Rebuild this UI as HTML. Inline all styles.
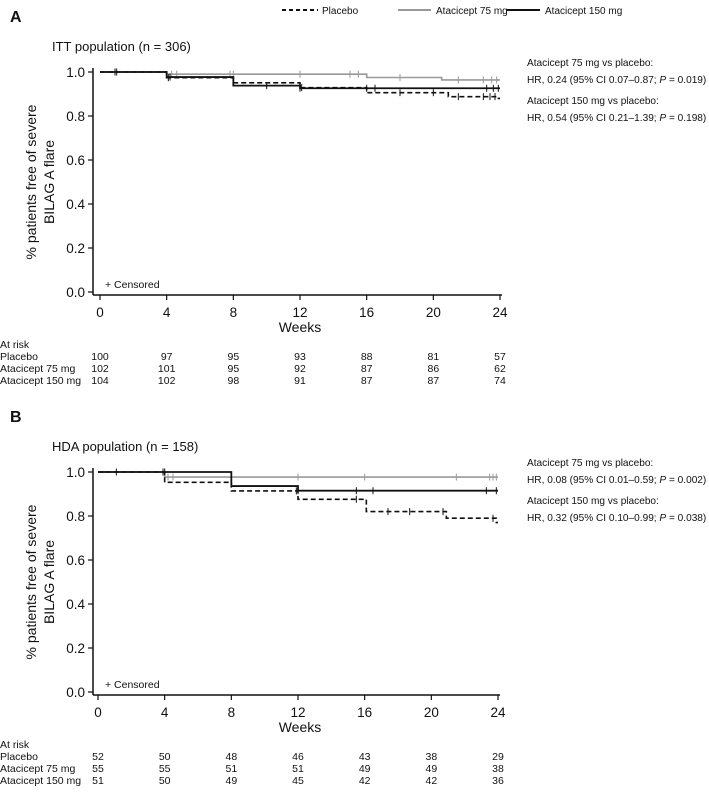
<!DOCTYPE html>
<html><head><meta charset="utf-8"><style>
body{margin:0;background:#fff;font-family:"Liberation Sans",Arial,sans-serif;}
svg text{font-family:"Liberation Sans",Arial,sans-serif;fill:#111;}
</style></head><body>
<svg id="c" width="709" height="792" viewBox="0 0 709 792">
<g>
<line x1="282" y1="10" x2="318" y2="10" stroke="#111" stroke-width="2" stroke-dasharray="4,3"/>
<text x="322" y="14" font-size="10">Placebo</text>
<line x1="398" y1="10" x2="431" y2="10" stroke="#999" stroke-width="2"/>
<text x="436" y="14" font-size="10">Atacicept 75 mg</text>
<line x1="507" y1="10" x2="540" y2="10" stroke="#111" stroke-width="2"/>
<text x="545" y="14" font-size="10">Atacicept 150 mg</text>
</g>
</svg>
<script>
const weeks=[0,4,8,12,16,20,24];
const yTicks=[0,0.2,0.4,0.6,0.8,1.0];
const seriesNames=["Placebo","Atacicept 75 mg","Atacicept 150 mg"];
// Panel A step data: [time, survival]
const aPlacebo=[[0,1],[4,0.974],[8,0.951],[12,0.929],[16,0.906],[20.9,0.888],[23.9,0.88]];
const a75=[[0,1],[4,0.99],[16,0.975],[20.5,0.964]];
const a150=[[0,1],[4,0.977],[8,0.938],[12,0.926]];
const aCensPlacebo=[0.9,4.1,12.1,18,20,21.5,23,23.4,23.7];
const aCens75=[4.3,4.6,7.8,8,12,15,15.5,18,21.5,23,23.5,23.8];
const aCens150=[1,4.2,10,12,16,16.5,23.2,23.6,23.9];
const aRisk=[[100,97,95,93,88,81,57],[102,101,95,92,87,86,62],[104,102,98,91,87,87,74]];
// Panel B
const bPlacebo=[[0,1],[4,0.953],[8,0.914],[12,0.876],[16.1,0.82],[20.9,0.79],[23.9,0.77]];
const b75=[[0,1],[4,0.977]];
const b150=[[0,1],[8,0.936],[12,0.915]];
const bCensPlacebo=[3.9,11.9,15.5,17.4,18.7,20.7,23.7];
const bCens75=[4.2,4.5,12,16,21.5,23.5,23.7,23.9];
const bCens150=[1.1,4,12,15.5,16.5,23.3,23.9];
const bRisk=[[52,50,48,46,43,38,29],[55,55,51,51,49,49,38],[51,50,49,45,42,42,36]];

const svg=document.getElementById('c');
const NS='http://www.w3.org/2000/svg';
function mk(tag,attrs,parent,txt){const e=document.createElementNS(NS,tag);for(const k in attrs)e.setAttribute(k,attrs[k]);if(txt!==undefined)e.textContent=txt;(parent||svg).appendChild(e);return e;}

function panel(o){
  const X=w=>o.x0+w/24*400;
  const Y=v=>o.y0-v*220;
  const top=Y(1);
  const g=mk('g',{});
  
  
  let t=mk('text',{x:10,y:top-50,'font-size':16,'font-weight':'bold'},g,o.letter);
  
  
  t=mk('text',{x:52,y:top-21,'font-size':13},g,o.title);
  
  
  o.notes.forEach((s,i)=>{const a=mk('text',{x:527,y:top-6+i*17+(i>1?4:0),'font-size':10.1},g);
    
    
    a.innerHTML=s;});
  t=mk('text',{transform:`translate(44,${o.y0-110}) rotate(-90)`,'text-anchor':'middle','font-size':14},g);
  
  
  mk('tspan',{x:0,y:-8},t,'% patients free of severe');
  mk('tspan',{x:0,y:10},t,'BILAG A flare');
  let ax=mk('line',{x1:93,y1:top-4,x2:93,y2:o.y0+3,stroke:'#111','stroke-width':1.5},g);
  
  
  ax=mk('line',{x1:93,y1:o.y0+3,x2:X(24)+2,y2:o.y0+3,stroke:'#111','stroke-width':1.5},g);
  
  
  yTicks.forEach(v=>{mk('line',{x1:88,y1:Y(v),x2:93,y2:Y(v),stroke:'#111','stroke-width':1.2},g);
    const l=mk('text',{x:85,y:Y(v)+5,'text-anchor':'end','font-size':13.5},g,v.toFixed(1));
    
    });
  weeks.forEach(w=>{mk('line',{x1:X(w),y1:o.y0+3,x2:X(w),y2:o.y0+8,stroke:'#111','stroke-width':1.2},g);
    const l=mk('text',{x:X(w),y:o.y0+25,'text-anchor':'middle','font-size':13.5},g,w);
    
    });
  t=mk('text',{x:300,y:o.y0+40,'text-anchor':'middle','font-size':14},g,'Weeks');
  
  
  t=mk('text',{x:105,y:o.y0-4,'font-size':10.5},g,'+ Censored');
  
  
  const styles=[{stroke:'#111',dash:'5,3',w:1.6},{stroke:'#999',dash:'',w:1.6},{stroke:'#111',dash:'',w:1.8}];
  const order=[1,2,0];
  order.forEach(i=>{
    const pts=o.curves[i];let d=`M${X(pts[0][0])},${Y(pts[0][1])}`;
    for(let k=1;k<pts.length;k++){d+=` H${X(pts[k][0])} V${Y(pts[k][1])}`;}
    d+=` H${X(24)}`;
    const p=mk('path',{d,fill:'none',stroke:styles[i].stroke,'stroke-width':styles[i].w,'stroke-dasharray':styles[i].dash},g);
    
    
    o.cens[i].forEach(tm=>{let v=1;pts.forEach(q=>{if(q[0]<=tm)v=q[1];});
      const c=mk('line',{x1:X(tm),y1:Y(v)-3.5,x2:X(tm),y2:Y(v)+3.5,stroke:styles[i].stroke,'stroke-width':1},g);
      
      });
  });
  const ry=o.y0+56;
  t=mk('text',{x:0,y:ry,'font-size':10.5},g,'At risk');
  
  
  seriesNames.forEach((n,i)=>{const l=mk('text',{x:0,y:ry+12*(i+1),'font-size':10.5},g,n);
    
    
    o.risk[i].forEach((r,j)=>{const c=mk('text',{x:X(weeks[j]),y:ry+12*(i+1),'text-anchor':'middle','font-size':10.5},g,r);
      
      });});
}
panel({letter:'A',x0:100,y0:292,title:'ITT population (n = 306)',
  curves:[aPlacebo,a75,a150],cens:[aCensPlacebo,aCens75,aCens150],risk:aRisk,
  notes:['Atacicept 75 mg vs placebo:','HR, 0.24 (95% CI 0.07–0.87; <tspan font-style="italic">P</tspan> = 0.019)','Atacicept 150 mg vs placebo:','HR, 0.54 (95% CI 0.21–1.39; <tspan font-style="italic">P</tspan> = 0.198)']});
panel({letter:'B',x0:98,y0:692,title:'HDA population (n = 158)',
  curves:[bPlacebo,b75,b150],cens:[bCensPlacebo,bCens75,bCens150],risk:bRisk,
  notes:['Atacicept 75 mg vs placebo:','HR, 0.08 (95% CI 0.01–0.59; <tspan font-style="italic">P</tspan> = 0.002)','Atacicept 150 mg vs placebo:','HR, 0.32 (95% CI 0.10–0.99; <tspan font-style="italic">P</tspan> = 0.038)']});
</script>
</body></html>
